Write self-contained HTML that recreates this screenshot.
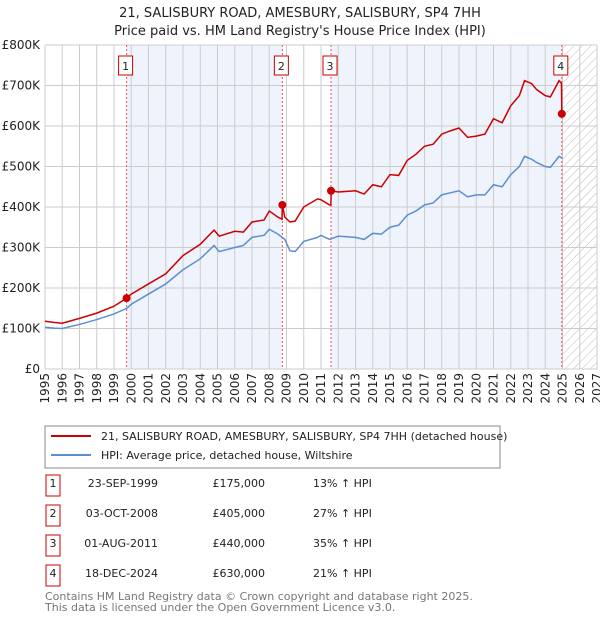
<!DOCTYPE html>
<html><head><meta charset="utf-8"><style>
body{margin:0;background:#fff;font-family:"Liberation Sans","DejaVu Sans",sans-serif;}
svg text{font-family:"DejaVu Sans","Liberation Sans",sans-serif;}
</style></head><body>
<svg id="c" width="600" height="620" xmlns="http://www.w3.org/2000/svg">
<defs><pattern id="hatch" width="6" height="6" patternUnits="userSpaceOnUse" patternTransform="rotate(45)"><line x1="0" y1="0" x2="0" y2="6" stroke="#bbb" stroke-width="1"/></pattern></defs>
<text x="300" y="17" text-anchor="middle" font-size="13" fill="#222">21, SALISBURY ROAD, AMESBURY, SALISBURY, SP4 7HH</text>
<text x="300" y="35" text-anchor="middle" font-size="13" fill="#222">Price paid vs. HM Land Registry's House Price Index (HPI)</text>
<g id="plot"></g>
<rect x="45" y="426" width="455" height="42" fill="#fff" stroke="#888"/>
<line x1="51" y1="436" x2="91" y2="436" stroke="#cc0000" stroke-width="2"/>
<text x="101" y="440" font-size="11" fill="#222">21, SALISBURY ROAD, AMESBURY, SALISBURY, SP4 7HH (detached house)</text>
<line x1="51" y1="455" x2="91" y2="455" stroke="#5b8fd0" stroke-width="2"/>
<text x="101" y="459" font-size="11" fill="#222">HPI: Average price, detached house, Wiltshire</text>
<g id="tbl" font-size="11" fill="#222"></g>
<text x="45" y="600" font-size="11" fill="#777">Contains HM Land Registry data © Crown copyright and database right 2025.</text>
<text x="45" y="611" font-size="11" fill="#777">This data is licensed under the Open Government Licence v3.0.</text>
</svg>
<script>
const hpiYears=[1995,1995.5,1996,1997,1998,1999,1999.75,2000,2001,2002,2003,2004,2004.8,2005.1,2006,2006.5,2007,2007.7,2008,2008.5,2008.9,2009.2,2009.5,2010,2010.8,2011,2011.5,2012,2013,2013.5,2014,2014.5,2015,2015.5,2016,2016.5,2017,2017.5,2018,2018.5,2019,2019.5,2020,2020.5,2021,2021.5,2022,2022.5,2022.8,2023.2,2023.5,2024,2024.3,2024.8,2025];
const hpiValues=[103,101,100,110,122,136,150,160,185,210,245,272,305,290,300,305,325,330,345,333,320,292,290,315,325,330,320,328,325,320,335,333,350,355,380,390,405,410,430,435,440,425,430,430,455,450,480,500,525,518,510,500,498,525,520];
const propYears=[1995,1995.5,1996,1997,1998,1999,1999.73,2000,2001,2002,2003,2004,2004.8,2005.1,2006,2006.5,2007,2007.7,2008,2008.5,2008.74,2008.76,2008.9,2009.2,2009.5,2010,2010.8,2011,2011.5,2011.57,2011.59,2012,2013,2013.5,2014,2014.5,2015,2015.5,2016,2016.5,2017,2017.5,2018,2018.5,2019,2019.5,2020,2020.5,2021,2021.5,2022,2022.5,2022.8,2023.2,2023.5,2024,2024.3,2024.8,2024.94,2024.96];
const propValues=[118,115,113,125,138,155,175,185,210,235,280,308,343,328,340,338,363,368,390,375,370,405,375,363,365,400,420,418,405,405,440,437,440,432,455,450,480,478,515,530,550,555,580,588,595,572,575,580,618,608,650,675,712,705,690,675,672,712,705,630];
const saleLabels=["1","2","3","4"];
const saleYears=[1999.73,2008.76,2011.58,2024.96];
const saleValues=[175,405,440,630];
const saleDates=["23-SEP-1999","03-OCT-2008","01-AUG-2011","18-DEC-2024"];
const salePrices=["£175,000","£405,000","£440,000","£630,000"];
const saleHpi=["13% ↑ HPI","27% ↑ HPI","35% ↑ HPI","21% ↑ HPI"];
const yTicks=[0,100,200,300,400,500,600,700,800];
const yTickLabels=["£0","£100K","£200K","£300K","£400K","£500K","£600K","£700K","£800K"];
const xStart=1995,xEnd=2027;

const NS="http://www.w3.org/2000/svg";
const L=45,R=597,T=45,B=369;
const X=y=>L+(y-xStart)/(xEnd-xStart)*(R-L);
const Y=v=>B-v/800*(B-T);
const g=document.getElementById('plot');
function mk(tag,attrs,parent){const e=document.createElementNS(NS,tag);for(const k in attrs)e.setAttribute(k,attrs[k]);(parent||g).appendChild(e);return e;}
let e;
e=mk('rect',{x:L,y:T,width:R-L,height:B-T,fill:'#fff'});


e=mk('rect',{x:X(saleYears[0]),y:T,width:X(saleYears[1])-X(saleYears[0]),height:B-T,fill:'#eef3fc'});


e=mk('rect',{x:X(saleYears[2]),y:T,width:X(saleYears[3])-X(saleYears[2]),height:B-T,fill:'#eef3fc'});


e=mk('rect',{x:X(2025),y:T,width:R-X(2025),height:B-T,fill:'url(#hatch)'});


for(let yr=xStart;yr<=xEnd;yr++){
  e=mk('line',{x1:X(yr),x2:X(yr),y1:T,y2:B,stroke:'#ccc','stroke-width':1});
  
  
  const tx=X(yr)+4,ty=B+4;
  e=mk('text',{x:tx,y:ty,transform:`rotate(-90 ${tx} ${ty})`,'text-anchor':'end','font-size':12,fill:'#222'});
  e.textContent=yr;
  
  
}
yTicks.forEach((v,i)=>{
  e=mk('line',{x1:L,x2:R,y1:Y(v),y2:Y(v),stroke:'#ccc','stroke-width':1});
  
  
  e=mk('text',{x:L-5,y:Y(v)+4,'text-anchor':'end','font-size':12,fill:'#222'});
  e.textContent=yTickLabels[i];
  
  
});
saleYears.forEach((yr,i)=>{
  e=mk('line',{x1:X(yr),x2:X(yr),y1:T,y2:B,stroke:'#e55','stroke-width':1,'stroke-dasharray':'2,2'});
  
  
  e=mk('rect',{x:X(yr)-8,y:56,width:14,height:19,fill:'#fff',stroke:'#cc0000'});
  
  
  e=mk('text',{x:X(yr)-1,y:70,'text-anchor':'middle','font-size':11,fill:'#222'});
  e.textContent=saleLabels[i];
  
  
});
e=mk('polyline',{points:hpiYears.map((y,i)=>X(y)+','+Y(hpiValues[i])).join(' '),fill:'none',stroke:'#5b8fd0','stroke-width':1.5});


e=mk('polyline',{points:propYears.map((y,i)=>X(y)+','+Y(propValues[i])).join(' '),fill:'none',stroke:'#cc0000','stroke-width':1.5});


saleYears.forEach((yr,i)=>{
  e=mk('circle',{cx:X(yr),cy:Y(saleValues[i]),r:4,fill:'#cc0000'});
  
  
});
const t=document.getElementById('tbl');
saleLabels.forEach((lb,i)=>{
  const y=487+i*30;
  e=mk('rect',{x:46,y:y-12,width:14,height:21,fill:'#fff',stroke:'#cc0000'},t);
  
  
  const cells=[[53,lb,'middle'],[158,saleDates[i],'end'],[265,salePrices[i],'end'],[313,saleHpi[i],'start']];
  cells.forEach(c=>{
    e=mk('text',{x:c[0],y:y,'text-anchor':c[2]},t);
    e.textContent=c[1];
    
    
  });
});
</script>
</body></html>
